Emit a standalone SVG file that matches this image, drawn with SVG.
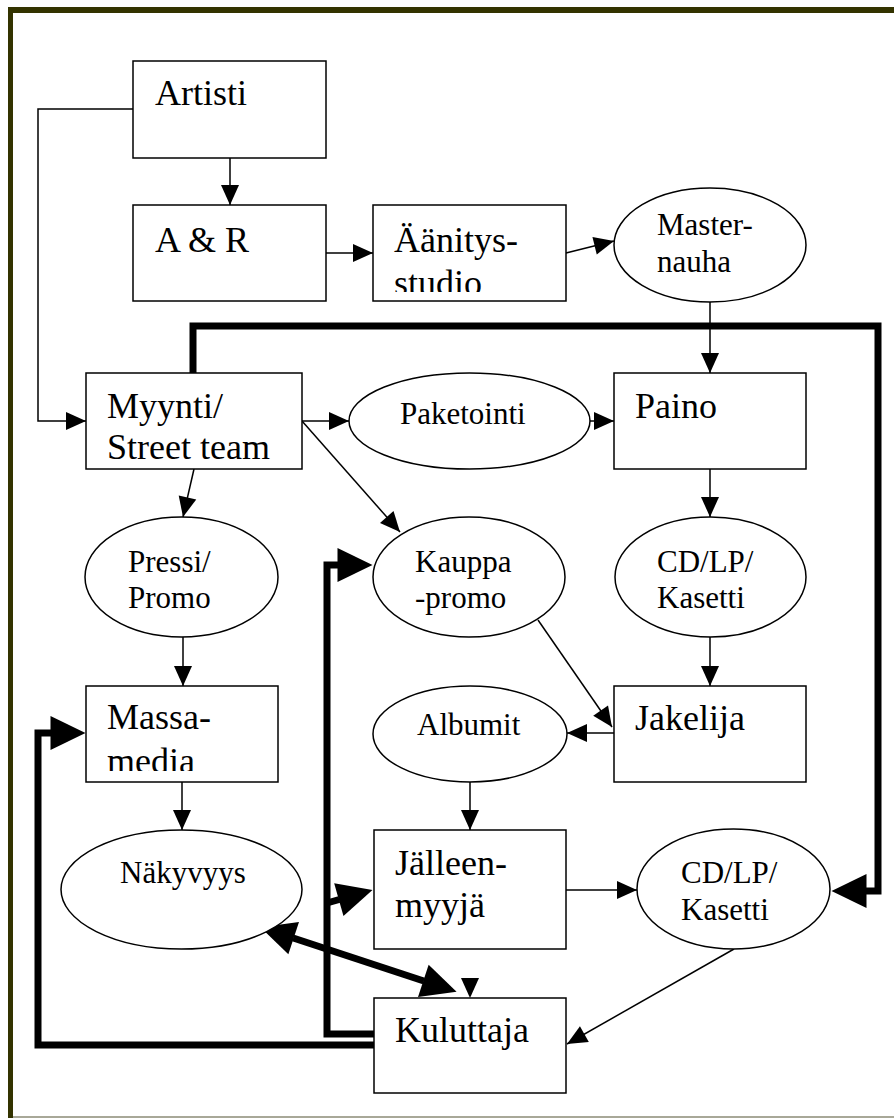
<svg xmlns="http://www.w3.org/2000/svg" width="894" height="1118" viewBox="0 0 894 1118">
<style>
.box{fill:#fff;stroke:#000;stroke-width:1.5}
.ell{fill:#fff;stroke:#000;stroke-width:1.5}
.bt{font-family:"Liberation Serif","Times New Roman",serif;font-size:36px;fill:#000}
.et{font-family:"Liberation Serif","Times New Roman",serif;font-size:31px;fill:#000}
.thin{fill:none;stroke:#000;stroke-width:1.5;marker-end:url(#a)}
.thick{fill:none;stroke:#000;stroke-width:7;stroke-linejoin:miter}
</style>
<defs>
<marker id="a" markerUnits="userSpaceOnUse" markerWidth="20" markerHeight="18" refX="20" refY="9" orient="auto" overflow="visible"><path d="M0,0 L20,9 L0,18 z" fill="#000"/></marker>
<marker id="A" markerUnits="userSpaceOnUse" markerWidth="35" markerHeight="34" refX="0.5" refY="17" orient="auto-start-reverse" overflow="visible"><path d="M0,0 L35,17 L0,34 z" fill="#000"/></marker>
<clipPath id="clipStudio"><rect x="373" y="205" width="193" height="87"/></clipPath>
<clipPath id="clipMedia"><rect x="86" y="686" width="192" height="85"/></clipPath>
</defs>
<rect x="0" y="0" width="894" height="1118" fill="#fff"/>
<g id="frame">
<line x1="10.5" y1="7" x2="10.5" y2="1118" stroke="#333300" stroke-width="5"/>
<line x1="8" y1="10" x2="894" y2="10" stroke="#333300" stroke-width="6"/>
<line x1="13" y1="1117" x2="894" y2="1117" stroke="#a8a898" stroke-width="2"/>
</g>
<g id="connectors">
<path class="thin" d="M230,158 V205"/>
<path class="thin" d="M133,109 H38 V421 H86"/>
<path class="thin" d="M326,253 H373"/>
<path class="thin" d="M566,253 L614,241"/>
<path class="thin" d="M710,302 V373"/>
<path class="thin" d="M302,421 H349"/>
<path class="thin" d="M590,421 H614"/>
<path class="thin" d="M302,421 L400,532"/>
<path class="thin" d="M194,469 L183,517"/>
<path class="thin" d="M710,469 V517"/>
<path class="thin" d="M183,637 V686"/>
<path class="thin" d="M710,637 V686"/>
<path class="thin" d="M538,620 L612,727"/>
<path class="thin" d="M614,733 H567"/>
<path class="thin" d="M182,782 V830"/>
<path class="thin" d="M470,782 V830"/>
<path class="thin" d="M566,890 H637"/>
<path class="thin" d="M734,949 L567,1044"/>
<polygon points="461,978 479,978 470,998" fill="#000"/>
<path class="thick" d="M193,373 V326 H878 V891 H866" marker-end="url(#A)"/>
<path class="thick" d="M374,1034 H327 V565 H338" marker-end="url(#A)"/>
<path class="thick" d="M327,903 L339.3,899.5" marker-end="url(#A)"/>
<path class="thick" d="M374,1045 H38 V733 H51" marker-end="url(#A)"/>
<path class="thick" d="M293.2,938 L423.8,981" marker-start="url(#A)" marker-end="url(#A)"/>
</g>
<g id="artisti"><rect class="box" x="133" y="61" width="193" height="97"/><text class="bt" x="155" y="105">Artisti</text></g>
<g id="ar"><rect class="box" x="133" y="205" width="193" height="96"/><text class="bt" x="155" y="252">A &amp; R</text></g>
<g id="aanitysstudio"><rect class="box" x="373" y="205" width="193" height="96"/><text class="bt" x="394" y="252">Äänitys-</text><text class="bt" x="394" y="295" clip-path="url(#clipStudio)">studio</text></g>
<g id="masternauha"><ellipse class="ell" cx="710" cy="245" rx="96" ry="57"/><text class="et" x="657" y="235">Master-</text><text class="et" x="657" y="272">nauha</text></g>
<g id="myynti"><rect class="box" x="86" y="373" width="216" height="96"/><text class="bt" x="107" y="418">Myynti/</text><text class="bt" x="107" y="459">Street team</text></g>
<g id="paketointi"><ellipse class="ell" cx="469.5" cy="421" rx="120.5" ry="48"/><text class="et" x="400" y="424">Paketointi</text></g>
<g id="paino"><rect class="box" x="614" y="373" width="192" height="96"/><text class="bt" x="635" y="418">Paino</text></g>
<g id="pressi"><ellipse class="ell" cx="181.5" cy="577" rx="96.5" ry="60"/><text class="et" x="128" y="572">Pressi/</text><text class="et" x="128" y="608">Promo</text></g>
<g id="kauppapromo"><ellipse class="ell" cx="469" cy="577" rx="96" ry="60"/><text class="et" x="415" y="572">Kauppa</text><text class="et" x="415" y="608">-promo</text></g>
<g id="cdlp1"><ellipse class="ell" cx="710.5" cy="577" rx="95.5" ry="60"/><text class="et" x="657" y="572">CD/LP/</text><text class="et" x="657" y="608">Kasetti</text></g>
<g id="massamedia"><rect class="box" x="86" y="686" width="192" height="96"/><text class="bt" x="107" y="729">Massa-</text><text class="bt" x="107" y="773" clip-path="url(#clipMedia)">media</text></g>
<g id="albumit"><ellipse class="ell" cx="470" cy="734" rx="97" ry="48"/><text class="et" x="417" y="735">Albumit</text></g>
<g id="jakelija"><rect class="box" x="614" y="686" width="192" height="96"/><text class="bt" x="635" y="730">Jakelija</text></g>
<g id="nakyvyys"><ellipse class="ell" cx="181.5" cy="889.5" rx="120.5" ry="59.5"/><text class="et" x="120" y="883">Näkyvyys</text></g>
<g id="jalleenmyyja"><rect class="box" x="374" y="830" width="192" height="119"/><text class="bt" x="395" y="875">Jälleen-</text><text class="bt" x="395" y="917">myyjä</text></g>
<g id="cdlp2"><ellipse class="ell" cx="733.5" cy="889" rx="96.5" ry="60"/><text class="et" x="681" y="883">CD/LP/</text><text class="et" x="681" y="920">Kasetti</text></g>
<g id="kuluttaja"><rect class="box" x="374" y="998" width="192" height="95"/><text class="bt" x="395" y="1042">Kuluttaja</text></g>
</svg>
